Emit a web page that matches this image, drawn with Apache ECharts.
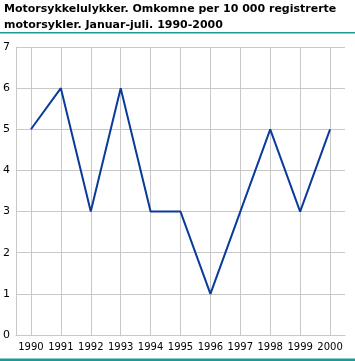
<!DOCTYPE html>
<html>
<head>
<meta charset="utf-8">
<script src="https://cdn.jsdelivr.net/npm/echarts@6/dist/echarts.min.js"></script>
<style>
  html, body { margin: 0; padding: 0; background: #fff; }
  #chart { width: 355px; height: 361px; }
</style>
</head>
<body>
<div id="chart"></div>
<script>
// år og verdier lest av figuren
const years = ['1990', '1991', '1992', '1993', '1994', '1995', '1996', '1997', '1998', '1999', '2000'];
const killedPer10000 = [5, 6, 3, 6, 3, 3, 1, 3, 5, 3, 5];
const titleText = 'Motorsykkelulykker. Omkomne per 10 000 registrerte\nmotorsykler. Januar-juli. 1990-2000';

const chart = echarts.init(document.getElementById('chart'));

const option = {
  animation: false,
  title: {
    text: titleText,
    left: 4,
    top: 1,
    padding: 0,
    textStyle: {
      fontFamily: 'DejaVu Sans',
      fontSize: 11,
      fontWeight: 'bold',
      color: '#000',
      lineHeight: 16
    }
  },
  graphic: [
    // teal strek under tittel og nederst
    { type: 'rect', shape: { x: 0, y: 32, width: 355, height: 1.5 }, style: { fill: '#1a9a9a' } },
    { type: 'rect', shape: { x: 0, y: 358.5, width: 355, height: 2.5 }, style: { fill: '#1a9a9a' } }
  ],
  grid: {
    left: 15,
    right: 10,
    top: 47,
    bottom: 26
  },
  xAxis: {
    type: 'category',
    data: years,
    boundaryGap: true,
    axisLine: { lineStyle: { color: '#c8c8c8', width: 1 } },
    axisTick: { show: false },
    axisLabel: {
      color: '#000',
      fontFamily: 'DejaVu Sans',
      fontSize: 10,
      margin: 7,
      interval: 0
    },
    splitLine: { show: false }
  },
  yAxis: {
    type: 'value',
    min: 0,
    max: 7,
    interval: 1,
    axisLine: { show: true, lineStyle: { color: '#c8c8c8', width: 1 } },
    axisTick: { show: false },
    axisLabel: {
      color: '#000',
      fontFamily: 'DejaVu Sans',
      fontSize: 11,
      margin: 6
    },
    splitLine: { lineStyle: { color: '#c8c8c8', width: 1 } }
  },
  series: [
    {
      // loddrette rutenettlinjer midt i hver kategori
      type: 'line',
      data: [],
      silent: true,
      z: 1,
      markLine: {
        silent: true,
        z: 1,
        symbol: 'none',
        label: { show: false },
        lineStyle: { color: '#c8c8c8', width: 1, type: 'solid' },
        data: years.map(function (y) { return { xAxis: y }; })
      }
    },
    {
      type: 'line',
      data: killedPer10000,
      symbol: 'none',
      z: 3,
      lineStyle: { color: '#0a3a9a', width: 2 }
    }
  ]
};

chart.setOption(option);
</script>
</body>
</html>
